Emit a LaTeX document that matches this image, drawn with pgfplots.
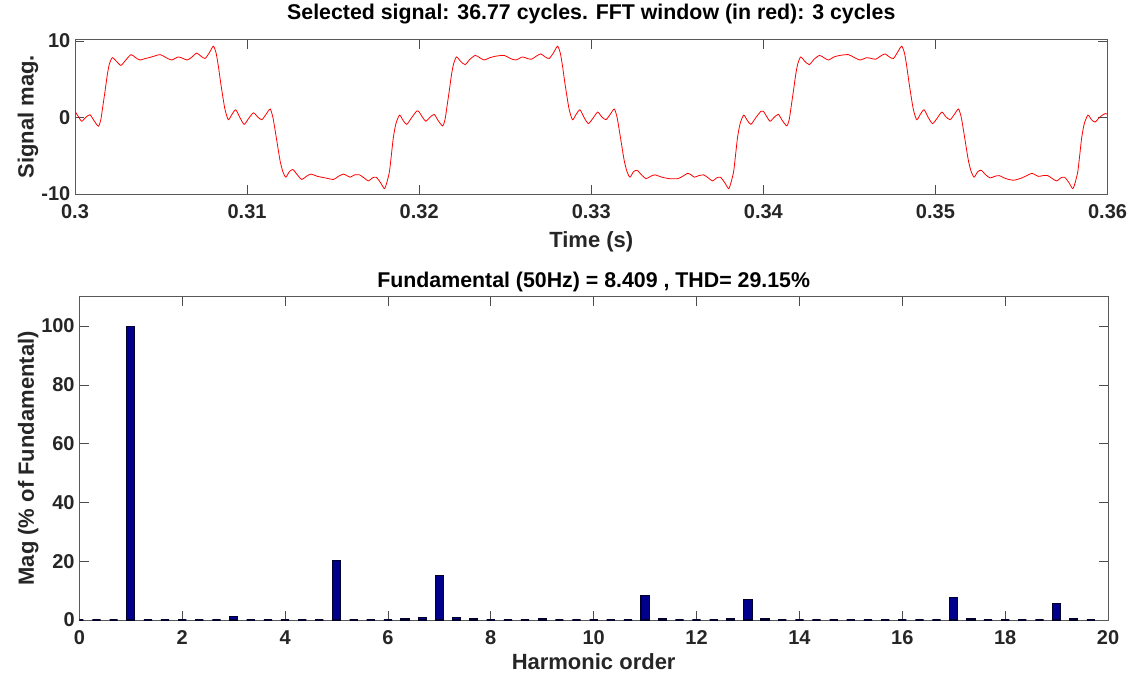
\documentclass[border=0pt]{standalone}
\usepackage{pgfplots}
\pgfplotsset{compat=1.18}
\usepackage{fontspec}
\setmainfont{Liberation Sans}
\definecolor{mlgray}{rgb}{0.15,0.15,0.15}
\definecolor{navybar}{rgb}{0,0,0.55}
\pgfplotsset{
  mlstyle/.style={
    scale only axis,
    anchor=south west,
    axis line style={draw=black!65, line width=0.6pt},
    tick style={draw=black!70, line width=0.5pt},
    tick align=inside,
    major tick length=7pt,
    tick label style={font=\fontsize{15}{18}\selectfont\bfseries, text=mlgray},
    xticklabel style={yshift=-4.5pt},
    label style={font=\fontsize{16.5}{19}\selectfont\bfseries, text=mlgray},
    title style={font=\fontsize{16}{19}\selectfont\bfseries, text=black},
    every axis title shift=0pt,
  }
}
\begin{document}
\begin{tikzpicture}
\useasboundingbox (0pt,0pt) rectangle (853.5pt,509.25pt);
\begin{axis}[mlstyle,
  at={(56.25pt,363.75pt)},
  width=774.4pt, height=116pt,
  xmin=0.3, xmax=0.36, ymin=-10, ymax=10.2,
  xtick={0.3,0.31,0.32,0.33,0.34,0.35,0.36},
  xticklabels={0.3,0.31,0.32,0.33,0.34,0.35,0.36},
  ytick={-10,0,10}, yticklabels={-10,0,10},
  title={Selected signal: 36.77 cycles. FFT window (in red): 3 cycles},
  title style={at={(axis description cs:0.5,1.163)}, anchor=center},
  xlabel={Time (s)},
  xlabel style={at={(axis description cs:0.5,-0.31)}, anchor=center},
  ylabel={Signal mag.},
  ylabel style={at={(axis description cs:-0.0455,0.5)}, anchor=center},
]
\addplot[red, line width=0.6pt, smooth, tension=0.4] coordinates {
(0.30000,0.8) (0.30020,0.1) (0.30039,-0.5) (0.30062,0.0) (0.30087,0.35) (0.30110,-0.4) (0.30136,-1.15) (0.30150,-0.3)
(0.30162,1.5) (0.30175,3.5) (0.30188,5.6) (0.30200,7.0) (0.30217,7.8) (0.30242,7.3) (0.30267,6.8) (0.30295,7.5)
(0.30326,8.2) (0.30352,7.8) (0.30378,7.5) (0.30410,7.7) (0.30445,7.9) (0.30494,8.2) (0.30530,7.8) (0.30562,7.5)
(0.30600,7.9) (0.30628,7.7) (0.30653,7.5) (0.30680,7.9) (0.30707,8.4) (0.30732,8.0) (0.30756,7.7) (0.30782,8.5)
(0.30804,9.3) (0.30820,8.4) (0.30833,6.7) (0.30846,4.6) (0.30859,2.7) (0.30872,1.0) (0.30891,-0.3) (0.30912,0.4)
(0.30934,1.0) (0.30958,0.0) (0.30983,-0.9) (0.31010,-0.1) (0.31037,0.6) (0.31060,0.1) (0.31085,-0.3) (0.31110,0.4)
(0.31134,1.1) (0.31150,0.0) (0.31163,-1.7) (0.31178,-3.8) (0.31192,-5.7) (0.31208,-7.1) (0.31225,-7.8) (0.31245,-7.1)
(0.31266,-6.8) (0.31292,-7.5) (0.31318,-8.1) (0.31344,-7.7) (0.31370,-7.4) (0.31410,-7.7) (0.31455,-7.9) (0.31502,-8.1)
(0.31530,-7.7) (0.31560,-7.4) (0.31580,-7.6) (0.31599,-7.8) (0.31625,-7.5) (0.31653,-7.5) (0.31680,-7.9) (0.31705,-8.3)
(0.31728,-7.9) (0.31750,-7.8) (0.31775,-8.5) (0.31798,-9.3) (0.31812,-8.5) (0.31827,-7.1) (0.31838,-5.0) (0.31850,-2.6)
(0.31865,-0.8) (0.31886,0.3) (0.31907,-0.4) (0.31928,-0.9) (0.31957,0.0) (0.31986,0.84)
(0.32000,0.7) (0.32020,0.0) (0.32039,-0.5) (0.32062,0.0) (0.32087,0.4) (0.32110,-0.4) (0.32136,-1.1) (0.32150,-0.3)
(0.32162,1.5) (0.32175,3.5) (0.32188,5.6) (0.32200,7.0) (0.32217,7.9) (0.32242,7.3) (0.32267,6.9) (0.32295,7.6)
(0.32326,8.1) (0.32352,7.8) (0.32378,7.5) (0.32410,7.8) (0.32445,8.0) (0.32494,8.1) (0.32530,7.7) (0.32562,7.5)
(0.32600,7.9) (0.32628,7.7) (0.32653,7.6) (0.32680,8.0) (0.32707,8.3) (0.32732,7.9) (0.32756,7.7) (0.32782,8.5)
(0.32804,9.3) (0.32820,8.4) (0.32833,6.7) (0.32846,4.6) (0.32859,2.7) (0.32872,1.0) (0.32891,-0.3) (0.32912,0.4)
(0.32934,1.0) (0.32958,0.0) (0.32983,-0.8) (0.33010,-0.1) (0.33037,0.7) (0.33060,0.1) (0.33085,-0.3) (0.33110,0.4)
(0.33134,1.1) (0.33150,0.0) (0.33163,-1.7) (0.33178,-3.8) (0.33192,-5.7) (0.33208,-7.1) (0.33225,-7.8) (0.33245,-7.1)
(0.33266,-6.9) (0.33292,-7.5) (0.33318,-8.0) (0.33344,-7.7) (0.33370,-7.5) (0.33410,-7.8) (0.33455,-8.0) (0.33502,-8.0)
(0.33530,-7.7) (0.33560,-7.3) (0.33580,-7.5) (0.33599,-7.8) (0.33625,-7.6) (0.33653,-7.5) (0.33680,-7.9) (0.33705,-8.3)
(0.33728,-7.9) (0.33750,-7.8) (0.33775,-8.5) (0.33798,-9.3) (0.33812,-8.5) (0.33827,-7.1) (0.33838,-5.0) (0.33850,-2.6)
(0.33865,-0.8) (0.33886,0.3) (0.33907,-0.4) (0.33928,-0.9) (0.33957,0.0) (0.33986,0.8)
(0.34000,0.8) (0.34020,0.1) (0.34039,-0.5) (0.34062,0.0) (0.34087,0.4) (0.34110,-0.4) (0.34136,-1.1) (0.34150,-0.3)
(0.34162,1.5) (0.34175,3.5) (0.34188,5.6) (0.34200,7.0) (0.34217,7.9) (0.34242,7.3) (0.34267,6.9) (0.34295,7.6)
(0.34326,8.1) (0.34352,7.8) (0.34378,7.5) (0.34410,7.9) (0.34445,8.1) (0.34494,8.2) (0.34530,7.8) (0.34562,7.5)
(0.34600,7.8) (0.34628,7.7) (0.34653,7.6) (0.34680,8.0) (0.34707,8.3) (0.34732,7.9) (0.34756,7.7) (0.34782,8.6)
(0.34804,9.3) (0.34820,8.4) (0.34833,6.7) (0.34846,4.6) (0.34859,2.7) (0.34872,1.0) (0.34891,-0.3) (0.34912,0.4)
(0.34934,1.0) (0.34958,0.0) (0.34983,-0.8) (0.35010,-0.1) (0.35037,0.7) (0.35060,0.1) (0.35085,-0.3) (0.35110,0.4)
(0.35134,1.1) (0.35150,0.0) (0.35163,-1.7) (0.35178,-3.8) (0.35192,-5.7) (0.35208,-7.1) (0.35225,-7.8) (0.35245,-7.1)
(0.35266,-6.9) (0.35292,-7.5) (0.35318,-7.9) (0.35344,-7.7) (0.35370,-7.6) (0.35410,-8.0) (0.35455,-8.2) (0.35502,-7.9)
(0.35530,-7.6) (0.35560,-7.3) (0.35580,-7.5) (0.35599,-7.7) (0.35625,-7.6) (0.35653,-7.6) (0.35680,-8.0) (0.35705,-8.3)
(0.35728,-7.9) (0.35750,-7.8) (0.35775,-8.5) (0.35798,-9.3) (0.35812,-8.5) (0.35827,-7.1) (0.35838,-5.0) (0.35850,-2.6)
(0.35865,-0.8) (0.35886,0.3) (0.35907,-0.3) (0.35928,-0.6) (0.35957,0.1) (0.35986,0.5) (0.36000,0.4)
};
\end{axis}
\begin{axis}[mlstyle,
  at={(59.5pt,44.25pt)},
  width=771.5pt, height=242.5pt,
  xmin=0, xmax=20, ymin=0, ymax=110,
  xtick={0,2,4,6,8,10,12,14,16,18,20},
  ytick={0,20,40,60,80,100},
  title={Fundamental (50Hz) = 8.409 , THD= 29.15\%},
  title style={at={(axis description cs:0.5,1.045)}, anchor=center},
  xlabel={Harmonic order},
  xlabel style={at={(axis description cs:0.5,-0.13)}, anchor=center},
  ylabel={Mag (\% of Fundamental)},
  ylabel style={at={(axis description cs:-0.0496,0.5)}, anchor=center},
  /pgf/number format/assume math mode=true,
]
\addplot[ybar, bar width=0.16, bar shift=0pt, fill=navybar, draw=black!70!navybar, line width=0.8pt] coordinates {
(0,0) (0.3333,0) (0.6667,0) (1,100) (1.3333,0) (1.6667,0)
(2,0) (2.3333,0) (2.6667,0) (3,1.2) (3.3333,0) (3.6667,0)
(4,0) (4.3333,0) (4.6667,0) (5,20.2) (5.3333,0) (5.6667,0)
(6,0) (6.3333,0.5) (6.6667,0.7) (7,15.2) (7.3333,1.0) (7.6667,0.5)
(8,0) (8.3333,0) (8.6667,0) (9,0.5) (9.3333,0) (9.6667,0)
(10,0) (10.3333,0) (10.6667,0) (11,8.3) (11.3333,0.5) (11.6667,0)
(12,0) (12.3333,0) (12.6667,0.4) (13,7.0) (13.3333,0.4) (13.6667,0)
(14,0) (14.3333,0) (14.6667,0) (15,0) (15.3333,0) (15.6667,0)
(16,0) (16.3333,0) (16.6667,0) (17,7.5) (17.3333,0.4) (17.6667,0)
(18,0) (18.3333,0) (18.6667,0) (19,5.7) (19.3333,0.4) (19.6667,0)
};
\end{axis}
\end{tikzpicture}
\end{document}
